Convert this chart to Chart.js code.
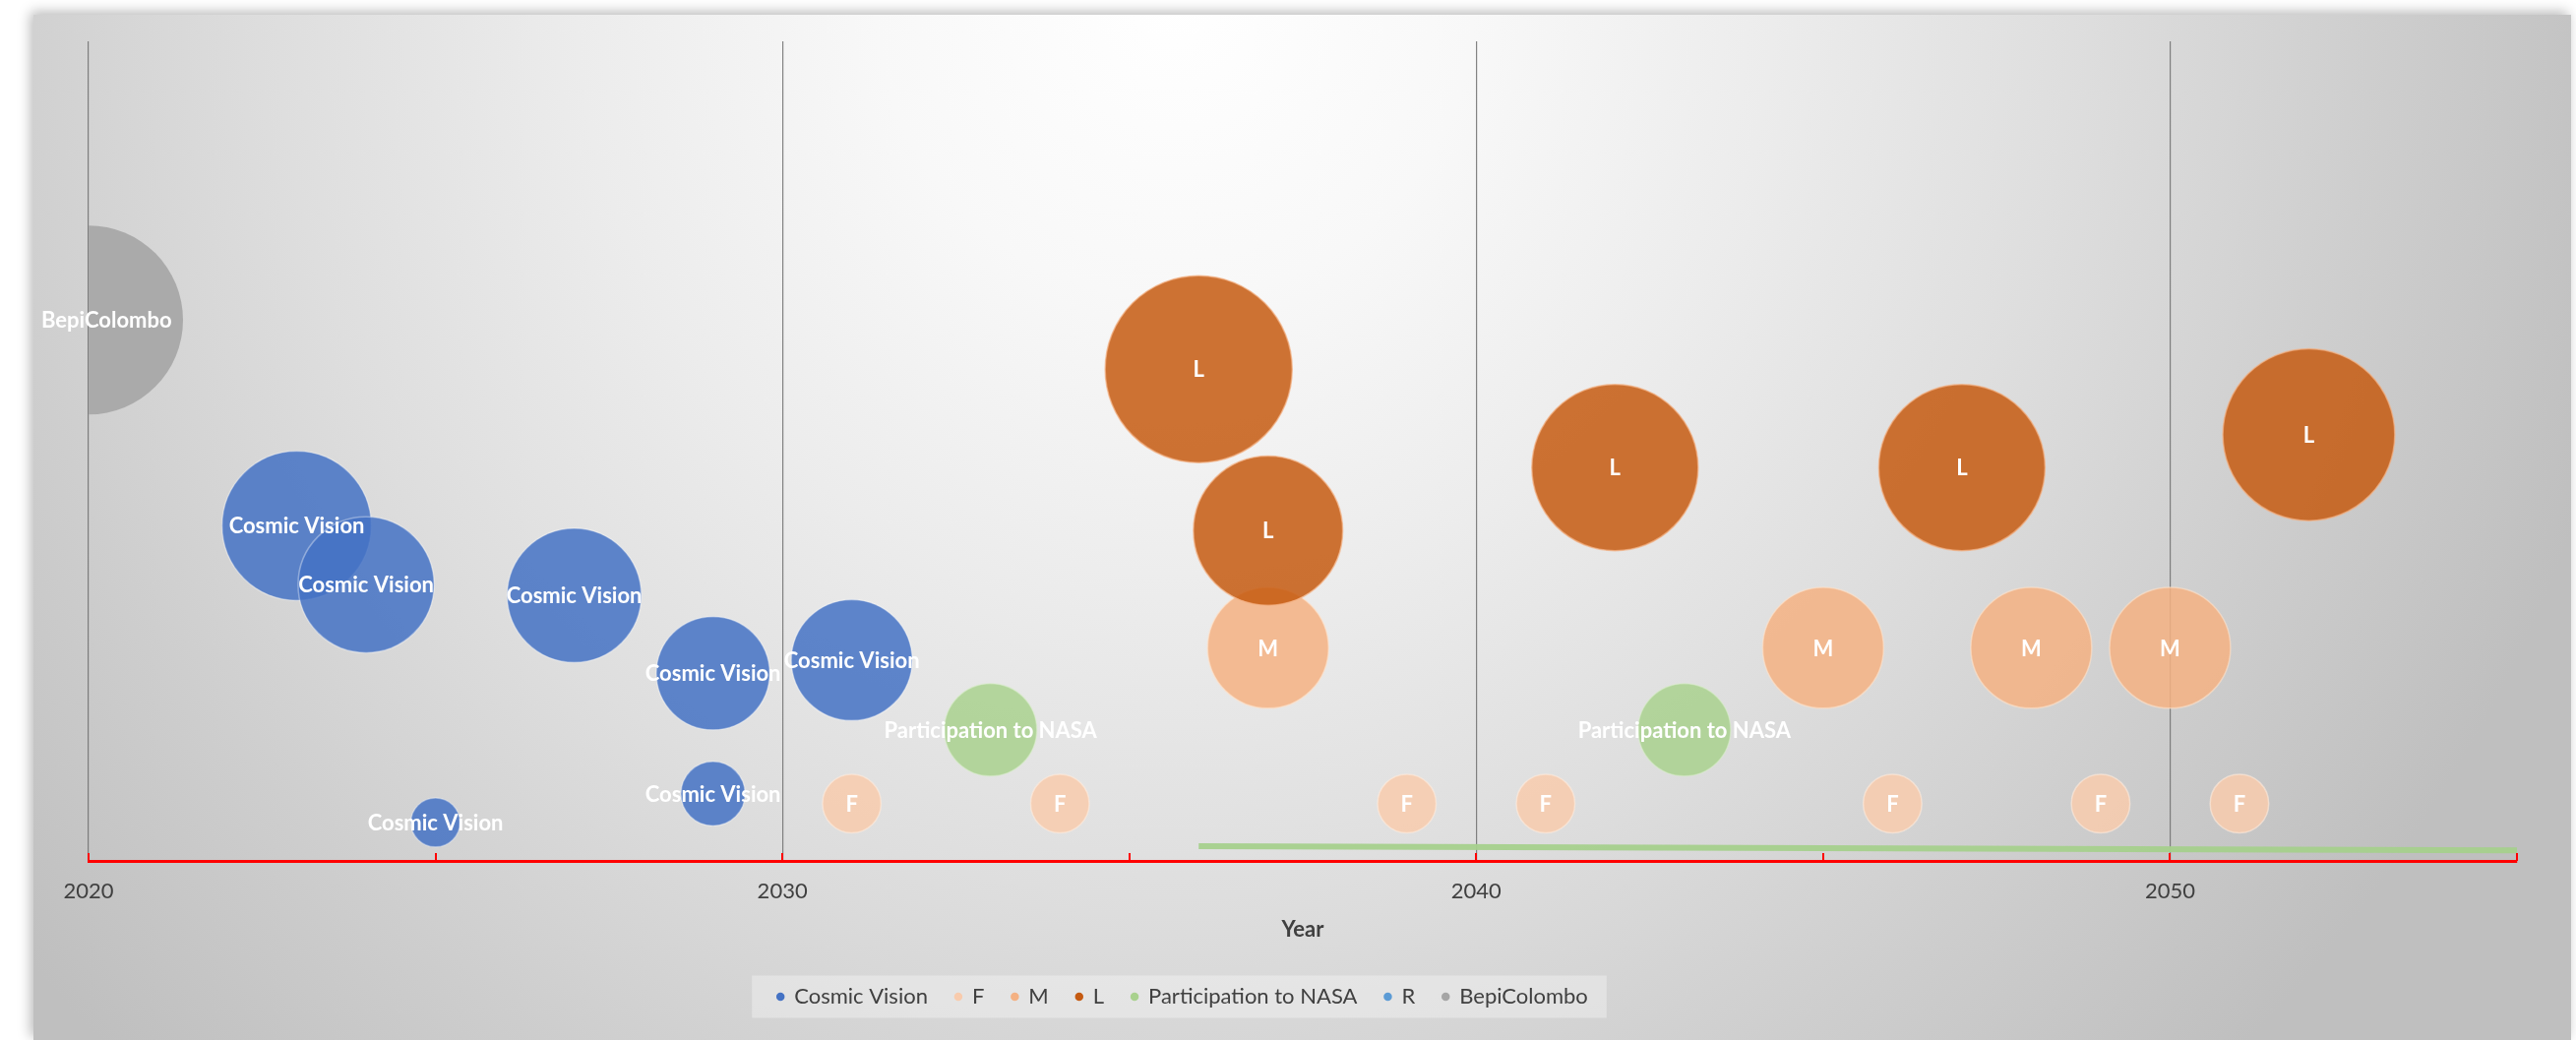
<!DOCTYPE html>
<html><head><meta charset="utf-8">
<script src="https://cdn.jsdelivr.net/npm/chart.js@4.4.1/dist/chart.umd.min.js"></script>
<style>
html,body{margin:0;padding:0;background:#fff;width:2618px;height:1057px;overflow:hidden;}
#panel{position:absolute;left:34px;top:15px;width:2579px;height:1042px;
 background: radial-gradient(circle 1520px at 1160px -15px, #ffffff 0%, #f8f8f8 20%, #ececec 40%, #dedede 60%, #cecece 80%, #bfbfbf 100%);
 box-shadow: -3px -3px 12px rgba(0,0,0,0.28);}
canvas{position:absolute;left:0;top:0;}
</style></head><body>
<div id="panel"><canvas id="c" width="2579" height="1042"></canvas></div>
<script>
// ---- data ----
const xTickLabels = [2020, 2030, 2040, 2050];

const cosmicVisionYear  = [2023, 2024, 2025, 2027, 2029, 2029, 2031];
const cosmicVisionValue = [4.09, 3.37, 0.47, 3.24, 2.29, 0.82, 2.45];
const cosmicVisionSize  = [79, 72, 26, 71, 60, 34, 64];

const fYear  = [2031, 2034, 2039, 2041, 2046, 2049, 2051];
const fValue = [0.70, 0.70, 0.70, 0.70, 0.70, 0.70, 0.70];
const fSize  = [31, 31, 31, 31, 31, 31, 31];

const mYear  = [2037, 2045, 2048, 2050];
const mValue = [2.60, 2.60, 2.60, 2.60];
const mSize  = [64, 64, 64, 64];

const lYear  = [2036, 2037, 2042, 2047, 2052];
const lValue = [6.00, 4.03, 4.80, 4.80, 5.20];
const lSize  = [99, 79, 88, 88, 91];

const nasaYear  = [2033, 2043];
const nasaValue = [1.60, 1.60];
const nasaSize  = [49, 49];

const rYear  = [];
const rValue = [];
const rSize  = [];

const bepiYear  = [2020];
const bepiValue = [6.60];
const bepiSize  = [100];

const nasaSpanYear  = [2036, 2055];
const nasaSpanValue = [0.18, 0.13];

// ---- build ----
const SIZE_TO_RADIUS = 0.96;
function bubbles(xs, ys, ss) { return xs.map((x, i) => ({x: x, y: ys[i], r: ss[i] * SIZE_TO_RADIUS})); }
function points(xs, ys) { return xs.map((x, i) => ({x: x, y: ys[i]})); }

Chart.defaults.font.family = "Lato, 'Open Sans', sans-serif";

const labelPlugin = {
  id: 'bubbleLabels',
  afterDatasetsDraw(chart) {
    const ctx = chart.ctx;
    ctx.save();
    ctx.font = "bold 22px Lato, 'Open Sans', sans-serif";
    ctx.fillStyle = '#ffffff';
    ctx.textAlign = 'center';
    ctx.textBaseline = 'middle';
    chart.data.datasets.forEach((ds, i) => {
      if (!ds.showLabel) return;
      const meta = chart.getDatasetMeta(i);
      meta.data.forEach(el => {
        const w = ctx.measureText(ds.label).width;
        let x = el.x;
        if (x - w / 2 < 8) x = 8 + w / 2;
        ctx.fillText(ds.label, x, el.y + 1);
      });
    });
    ctx.restore();
  }
};

const innerTicks = {
  id: 'innerTicks',
  afterDatasetsDraw(chart) {
    const xs = chart.scales.x, ctx = chart.ctx, b = chart.chartArea.bottom;
    ctx.save();
    ctx.strokeStyle = '#FF0000';
    ctx.lineWidth = 2;
    xs.ticks.forEach(t => {
      const px = Math.round(xs.getPixelForValue(t.value));
      ctx.beginPath(); ctx.moveTo(px, b); ctx.lineTo(px, b - 8); ctx.stroke();
    });
    ctx.restore();
  }
};

const legendShift = {
  id: 'legendShift',
  afterLayout(chart) {
    const lg = chart.legend;
    lg.left -= 122; lg.right -= 122;
  },
  beforeDraw(chart) {
    const lg = chart.legend, ctx = chart.ctx;
    const hb = lg.legendHitBoxes;
    if (!hb || !hb.length) return;
    const l = Math.min(...hb.map(h => h.left)) - 26;
    const r = Math.max(...hb.map(h => h.left + h.width)) + 19;
    const cy = hb[0].top + hb[0].height / 2;
    ctx.save();
    ctx.fillStyle = 'rgba(255,255,255,0.32)';
    ctx.fillRect(l, cy - 21.5, r - l, 43);
    ctx.restore();
  }
};

new Chart(document.getElementById('c'), {
  type: 'bubble',
  data: {
    datasets: [
      {label: 'Cosmic Vision', data: bubbles(cosmicVisionYear, cosmicVisionValue, cosmicVisionSize),
       backgroundColor: 'rgba(68,114,196,0.85)', borderColor: 'rgba(255,255,255,0.35)', borderWidth: 1.5,
       legendColor: '#4472C4', showLabel: true, order: 3},
      {label: 'F', data: bubbles(fYear, fValue, fSize),
       backgroundColor: 'rgba(248,203,173,0.85)', borderColor: 'rgba(255,235,220,0.6)', borderWidth: 1.5,
       legendColor: '#F8CBAD', showLabel: true, order: 4},
      {label: 'M', data: bubbles(mYear, mValue, mSize),
       backgroundColor: 'rgba(244,177,131,0.85)', borderColor: 'rgba(255,225,200,0.6)', borderWidth: 1.5,
       legendColor: '#F4B183', showLabel: true, order: 2},
      {label: 'L', data: bubbles(lYear, lValue, lSize),
       backgroundColor: 'rgba(197,90,17,0.85)', borderColor: 'rgba(244,177,131,0.7)', borderWidth: 1.5,
       legendColor: '#C55A11', showLabel: true, order: 1},
      {label: 'Participation to NASA', data: bubbles(nasaYear, nasaValue, nasaSize),
       backgroundColor: 'rgba(169,209,142,0.85)', borderColor: 'rgba(220,240,205,0.5)', borderWidth: 1.5,
       legendColor: '#A9D18E', showLabel: true, order: 3},
      {label: 'R', data: bubbles(rYear, rValue, rSize),
       backgroundColor: 'rgba(91,155,213,0.85)', borderWidth: 0,
       legendColor: '#5B9BD5', showLabel: true, order: 5},
      {label: 'BepiColombo', data: bubbles(bepiYear, bepiValue, bepiSize),
       backgroundColor: '#AAAAAA', borderWidth: 0,
       legendColor: '#A5A5A5', showLabel: true, order: 6},
      {type: 'line', label: 'NASA span', data: points(nasaSpanYear, nasaSpanValue),
       borderColor: 'rgba(165,208,140,0.95)', backgroundColor: 'rgba(165,208,140,0.95)', borderWidth: 6,
       pointRadius: 0, fill: false, hideInLegend: true, order: 7}
    ]
  },
  options: {
    responsive: false, animation: false, devicePixelRatio: 1,
    layout: {autoPadding: false, padding: {left: 56, right: 55, top: 27, bottom: 23}},
    scales: {
      x: {
        type: 'linear', min: 2020, max: 2055,
        ticks: {stepSize: 5, padding: 18, color: '#404040', font: {size: 22}, maxRotation: 0, autoSkip: false,
                callback: v => xTickLabels.includes(v) ? String(v) : ''},
        grid: {color: c => (c.tick && xTickLabels.includes(c.tick.value)) ? 'rgba(110,110,110,0.85)' : 'rgba(0,0,0,0)',
               lineWidth: 1.2, drawTicks: false},
        border: {color: '#FF0000', width: 3},
        title: {display: true, text: 'Year', color: '#404040', font: {size: 22, weight: 'bold'}, padding: {top: -5.6, bottom: 15.8}}
      },
      y: {display: false, min: 0, max: 10}
    },
    plugins: {
      tooltip: {enabled: false},
      legend: {
        position: 'bottom', align: 'center',
        labels: {
          usePointStyle: true, pointStyle: 'circle', boxWidth: 6, boxHeight: 6, padding: 28,
          color: '#404040', font: {size: 22},
          filter: (item, data) => !data.datasets[item.datasetIndex].hideInLegend,
          sort: (a, b) => a.datasetIndex - b.datasetIndex,
          generateLabels: chart => {
            const items = Chart.defaults.plugins.legend.labels.generateLabels(chart);
            items.forEach(it => {
              const ds = chart.data.datasets[it.datasetIndex];
              it.fillStyle = ds.legendColor || it.fillStyle;
              it.strokeStyle = it.fillStyle;
              it.lineWidth = 0;
              it.pointStyle = 'circle';
            });
            return items;
          }
        }
      }
    }
  },
  plugins: [legendShift, innerTicks, labelPlugin]
});
</script>
</body></html>
